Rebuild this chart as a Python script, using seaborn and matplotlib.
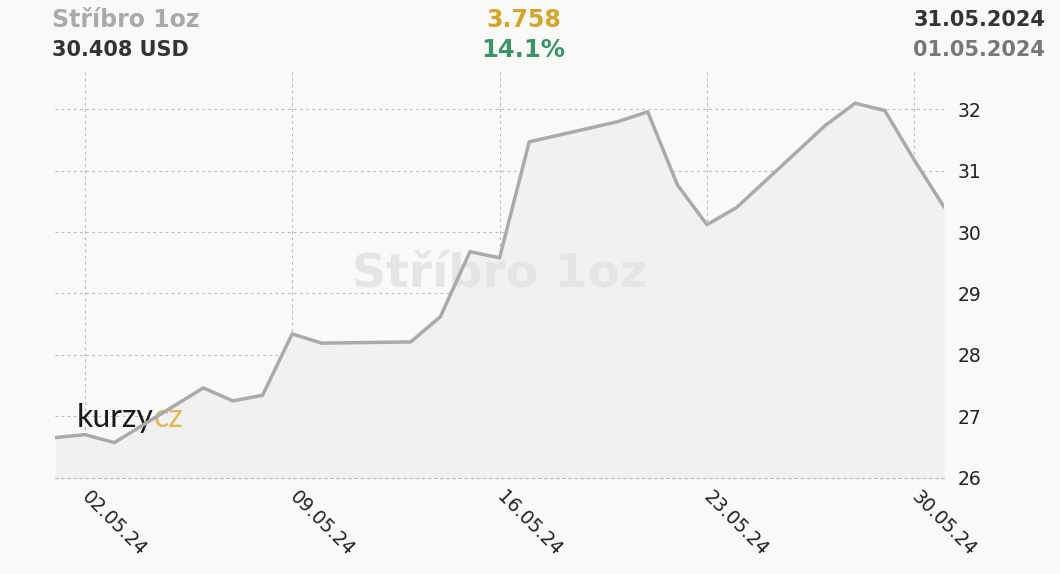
import pandas as pd
import seaborn as sns
import matplotlib.pyplot as plt
import matplotlib.dates as mdates

# Stříbro 1oz, květen 2024 (jen pracovní dny)
dny = ["2024-05-01", "2024-05-02", "2024-05-03", "2024-05-06", "2024-05-07",
       "2024-05-08", "2024-05-09", "2024-05-10", "2024-05-13", "2024-05-14",
       "2024-05-15", "2024-05-16", "2024-05-17", "2024-05-20", "2024-05-21",
       "2024-05-22", "2024-05-23", "2024-05-24", "2024-05-27", "2024-05-28",
       "2024-05-29", "2024-05-30", "2024-05-31"]
ceny = [26.65, 26.70, 26.57, 27.46, 27.25, 27.34, 28.34, 28.19, 28.21, 28.62,
        29.68, 29.58, 31.47, 31.80, 31.96, 30.77, 30.12, 30.40, 31.74, 32.10,
        31.98, 31.17, 30.408]
tick_dny = ["2024-05-02", "2024-05-09", "2024-05-16", "2024-05-23", "2024-05-30"]
y_ticks = [26, 27, 28, 29, 30, 31, 32]

df = pd.DataFrame({"datum": pd.to_datetime(dny), "cena": ceny})

bg = "#f9f9f7"
sns.set_style("white")
plt.rcParams["font.family"] = ["DejaVu Sans"]

fig = plt.figure(figsize=(10.6, 5.74), dpi=100, facecolor=bg)
ax = fig.add_axes([0.052, 0.168, 0.8386, 0.71])
ax.set_facecolor(bg)

ax.fill_between(df["datum"], df["cena"], 26, color="#f1f1f1", zorder=1, lw=0)
ax.text(0.5, 0.5, "Stříbro 1oz", transform=ax.transAxes, ha="center", va="center",
        fontsize=34, fontweight="bold", color="#e5e5e5", zorder=2)
sns.lineplot(data=df, x="datum", y="cena", ax=ax, color="#aaaaaa", linewidth=2.5, zorder=3)

ax.set_xlim(pd.Timestamp("2024-05-01"), pd.Timestamp("2024-05-31"))
ax.set_ylim(26, 32.64)
ax.set_xticks(pd.to_datetime(tick_dny))
ax.xaxis.set_major_formatter(mdates.DateFormatter("%d.%m.%y"))
ax.set_yticks(y_ticks)
ax.yaxis.tick_right()
ax.grid(True, color="#bbbbbb", linestyle=(0, (2.5, 3)), linewidth=0.8)
ax.set_axisbelow(True)
for s in ax.spines.values():
    s.set_visible(False)
ax.spines["bottom"].set_visible(True)
ax.spines["bottom"].set_color("#bbbbbb")
ax.spines["bottom"].set_linewidth(0.8)
ax.spines["bottom"].set_linestyle((0, (2.5, 3)))
ax.tick_params(axis="y", length=0, pad=10, labelsize=13.5, labelcolor="#222222")
ax.tick_params(axis="x", length=0, pad=12, labelsize=13.5, labelcolor="#222222")
for lab in ax.get_xticklabels():
    lab.set_rotation(-45)
    lab.set_ha("left")
    lab.set_va("center")
    lab.set_rotation_mode("anchor")
ax.set_xlabel("")
ax.set_ylabel("")

# logo
t = ax.text(0.024, 0.125, "kurzy", transform=ax.transAxes, fontsize=23, fontweight="normal",
            color="#1a1a1a", va="baseline", family="Lato", zorder=2.5)
ax.annotate("cz", xy=(1, 0), xycoords=t, va="bottom", fontsize=23, fontweight="normal",
            color="#e3b757", family="Lato", zorder=2.5)

# hlavicka
fig.text(0.049, 0.965, "Stříbro 1oz", fontsize=17, fontweight="bold", color="#aaaaaa", va="center")
fig.text(0.049, 0.913, "30.408 USD", fontsize=15, fontweight="bold", color="#333333", va="center")
fig.text(0.494, 0.965, "3.758", fontsize=17, fontweight="bold", color="#d4a52c", va="center", ha="center")
fig.text(0.494, 0.913, "14.1%", fontsize=17.5, fontweight="bold", color="#3a9467", va="center", ha="center")
fig.text(0.986, 0.965, "31.05.2024", fontsize=15, fontweight="bold", color="#333333", va="center", ha="right")
fig.text(0.986, 0.913, "01.05.2024", fontsize=15, fontweight="bold", color="#777777", va="center", ha="right")

fig.savefig("out.png", dpi=100, facecolor=bg)
